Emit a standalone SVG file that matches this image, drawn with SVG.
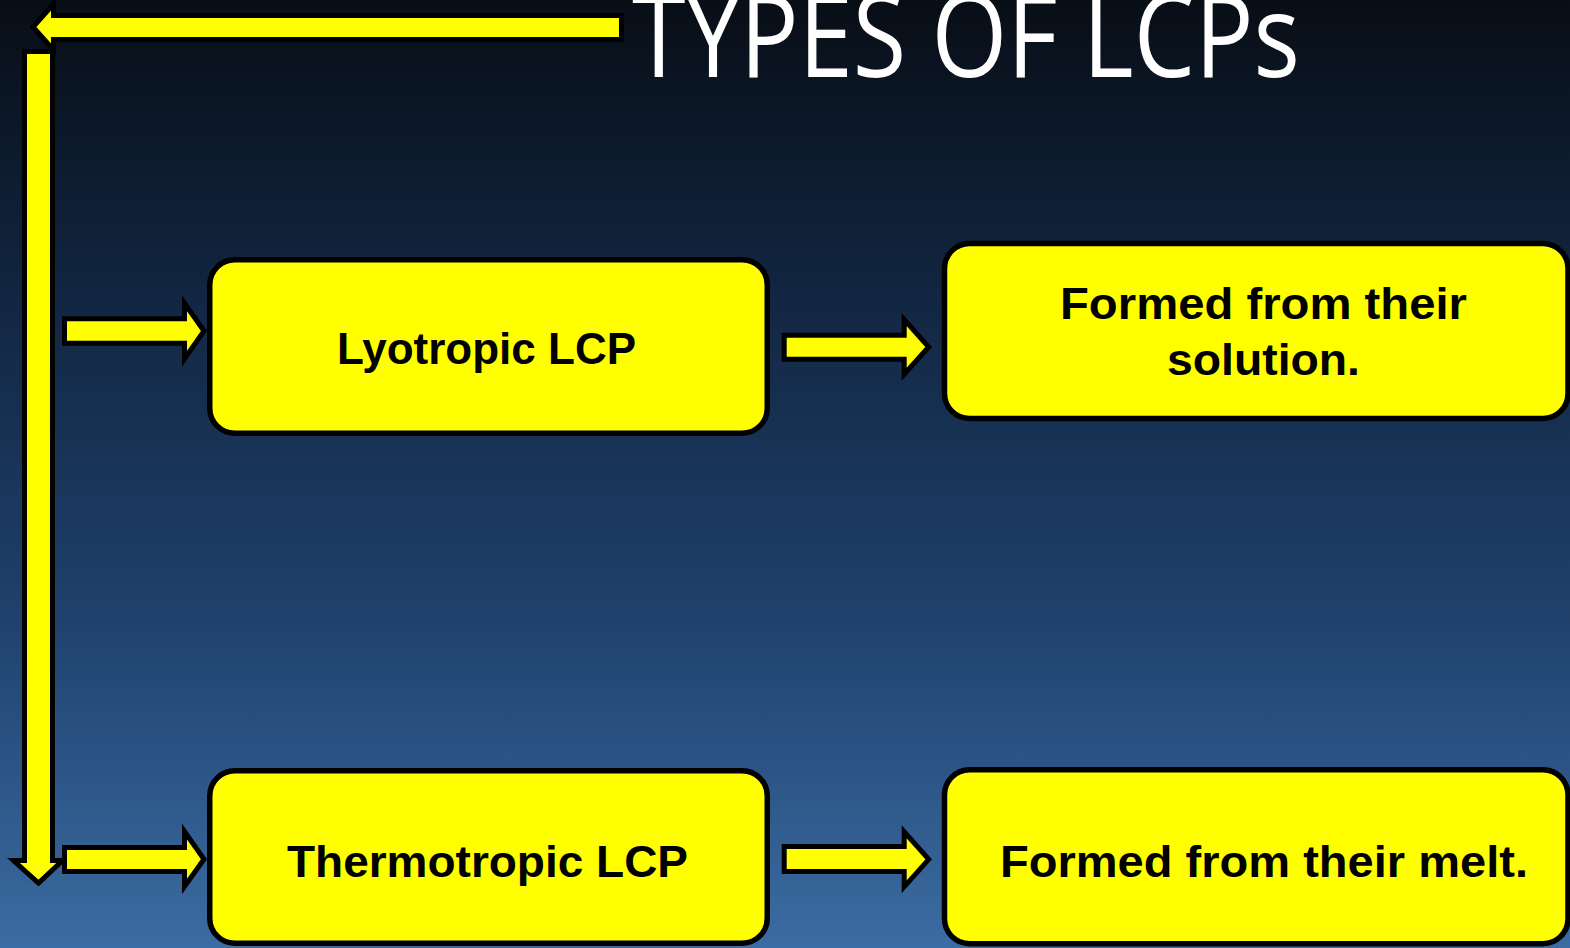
<svg xmlns="http://www.w3.org/2000/svg" width="1570" height="948" viewBox="0 0 1570 948">
<defs>
<linearGradient id="bg" x1="0" y1="0" x2="0" y2="1">
<stop offset="0" stop-color="#080e16"/>
<stop offset="0.3" stop-color="#112540"/>
<stop offset="0.65" stop-color="#1f416c"/>
<stop offset="1" stop-color="#3b6ca3"/>
</linearGradient>
<style>
.box{fill:#ffff00;stroke:#000;stroke-width:5.5}
.arr{fill:#ffff00;stroke:#000;stroke-width:5;stroke-linejoin:miter}
.lbl{font-family:"Liberation Sans",Arial,sans-serif;font-weight:bold;font-size:45px;fill:#000}
.title{font-family:"Open Sans",sans-serif;font-weight:400;font-size:115px;fill:#fff}
</style>
</defs>
<rect x="0" y="0" width="1570" height="948" fill="url(#bg)"/>
<g id="connectors">
<path class="arr" d="M621.5,15.5 H53.5 V4 L33,27 L53.5,50 V39.5 H621.5 Z"/>
<path class="arr" d="M24.5,51.5 H52.5 V860.5 H62.5 L38.5,883 L13.5,860.5 H24.5 Z"/>
<path class="arr" d="M64.5,318.8 H184.5 V303.2 L204,331 L184.5,358.8 V343.2 H64.5 Z"/>
<path class="arr" d="M64.5,847.5 H184.5 V831.5 L204,859.3 L184.5,886.5 V871.5 H64.5 Z"/>
<path class="arr" d="M784.2,335.2 H904.2 V319.5 L928.7,347 L904.2,374.2 V359.2 H784.2 Z"/>
<path class="arr" d="M784.2,846.5 H904.2 V831.8 L928.7,859.3 L904.2,886.8 V871.5 H784.2 Z"/>
</g>
<g id="title">
<text class="title" x="632" y="77" textLength="668" lengthAdjust="spacingAndGlyphs">TYPES OF LCPs</text>
</g>
<g id="lyotropic">
<rect class="box" x="209.75" y="259.75" width="557.5" height="173.5" rx="25"/>
<text class="lbl" x="337" y="364.3" textLength="299" lengthAdjust="spacingAndGlyphs">Lyotropic LCP</text>
</g>
<g id="solution">
<rect class="box" x="944.5" y="243.5" width="623.5" height="175" rx="25"/>
<text class="lbl" x="1060" y="319.3" textLength="407" lengthAdjust="spacingAndGlyphs">Formed from their</text>
<text class="lbl" x="1167" y="375" textLength="193" lengthAdjust="spacingAndGlyphs">solution.</text>
</g>
<g id="thermotropic">
<rect class="box" x="209.75" y="770.75" width="557.5" height="172.5" rx="25"/>
<text class="lbl" x="287" y="876.7" textLength="401" lengthAdjust="spacingAndGlyphs">Thermotropic LCP</text>
</g>
<g id="melt">
<rect class="box" x="944.5" y="769.75" width="623.5" height="174" rx="25"/>
<text class="lbl" x="1000" y="876.7" textLength="528" lengthAdjust="spacingAndGlyphs">Formed from their melt.</text>
</g>
</svg>
